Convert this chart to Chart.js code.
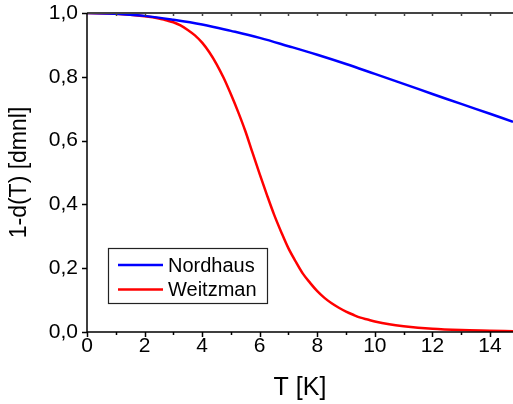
<!DOCTYPE html>
<html>
<head>
<meta charset="utf-8">
<script src="https://cdn.jsdelivr.net/npm/chart.js@4.4.1/dist/chart.umd.min.js"></script>
<style>
  html, body { margin: 0; padding: 0; background: #fff; }
  #wrap { width: 513px; height: 404px; }
</style>
</head>
<body>
<div id="wrap"><canvas id="chart" width="513" height="404"></canvas></div>
<script>
// temperatures (K) and values
const tNordhaus = [0, 1, 2, 3, 4, 5, 6, 7, 8, 9, 10, 11, 12, 13, 14, 14.8];
const nordhaus = [1.0, 0.998, 0.991, 0.979, 0.964, 0.944, 0.922, 0.896, 0.869, 0.840, 0.809, 0.778, 0.746, 0.715, 0.684, 0.659];

const tWeitzman = [0, 1, 2, 2.5, 2.75, 3, 3.25, 3.5, 3.75, 4, 4.25, 4.5, 4.75, 5, 5.25, 5.5, 5.75, 6, 6.25, 6.5, 6.75, 7, 7.25, 7.5, 7.75, 8, 8.25, 8.5, 8.75, 9, 9.25, 9.5, 9.75, 10, 10.5, 11, 12, 13, 14, 14.8];
const weitzman = [1.0, 0.998, 0.990, 0.983, 0.977, 0.971, 0.961, 0.947, 0.930, 0.907, 0.877, 0.840, 0.796, 0.745, 0.690, 0.630, 0.562, 0.495, 0.430, 0.368, 0.313, 0.262, 0.221, 0.183, 0.154, 0.128, 0.107, 0.090, 0.076, 0.064, 0.054, 0.045, 0.039, 0.033, 0.024, 0.018, 0.010, 0.006, 0.004, 0.0025];

const xTickLabels = [0, 2, 4, 6, 8, 10, 12, 14];
const yTickLabels = [0, 0.2, 0.4, 0.6, 0.8, 1.0];

const FONT = '"Liberation Sans", Arial, sans-serif';

const toPoints = (xs, ys) => xs.map((x, i) => ({ x: x, y: ys[i] }));

// axes, ticks and the boxed legend, drawn in the figure's style
const framePlugin = {
    id: 'frame',
    afterDraw(chart) {
        const ctx = chart.ctx;
        const area = chart.chartArea;
        const xs = chart.scales.x;
        const ys = chart.scales.y;
        ctx.save();

        // top axis
        ctx.strokeStyle = '#444';
        ctx.lineWidth = 2;
        ctx.beginPath();
        ctx.moveTo(area.left, area.top);
        ctx.lineTo(area.right, area.top);
        ctx.stroke();
        ctx.lineWidth = 1.5;
        ctx.beginPath();
        for (let v = 1; v <= 14; v++) {
            const px = Math.round(xs.getPixelForValue(v)) + 0.5;
            ctx.moveTo(px, area.top);
            ctx.lineTo(px, area.top + 3);
        }
        ctx.stroke();

        // left and bottom axes
        ctx.strokeStyle = '#000';
        ctx.lineWidth = 1.5;
        ctx.beginPath();
        ctx.moveTo(area.left, area.top);
        ctx.lineTo(area.left, area.bottom);
        ctx.lineTo(area.right, area.bottom);
        yTickLabels.forEach(v => {
            const py = Math.round(ys.getPixelForValue(v)) + 0.5;
            ctx.moveTo(area.left, py);
            ctx.lineTo(area.left - 5, py);
        });
        for (let v = 0; v <= 14; v++) {
            const px = Math.round(xs.getPixelForValue(v)) + 0.5;
            ctx.moveTo(px, area.bottom);
            ctx.lineTo(px, area.bottom + (v % 2 === 0 ? 5 : 3));
        }
        ctx.stroke();

        // legend
        const bx = 108, by = 248, bw = 159, bh = 55;
        ctx.fillStyle = '#fff';
        ctx.fillRect(bx, by, bw, bh);
        ctx.strokeStyle = '#222';
        ctx.lineWidth = 1.2;
        ctx.strokeRect(bx + 0.5, by + 0.5, bw, bh);
        ctx.font = '20px ' + FONT;
        ctx.textBaseline = 'middle';
        chart.data.datasets.forEach((ds, i) => {
            const ly = 265 + i * 24.5;
            ctx.strokeStyle = ds.borderColor;
            ctx.lineWidth = 2.5;
            ctx.beginPath();
            ctx.moveTo(118, ly);
            ctx.lineTo(163, ly);
            ctx.stroke();
            ctx.fillStyle = '#000';
            ctx.fillText(ds.label, 168, ly + 1);
        });
        ctx.restore();
    }
};

const noEdgePadding = (scale) => {
    scale.paddingTop = 0;
    scale.paddingBottom = 0;
    scale.paddingLeft = 0;
    scale.paddingRight = 0;
};

new Chart(document.getElementById('chart').getContext('2d'), {
    type: 'line',
    data: {
        datasets: [{
            label: 'Nordhaus',
            data: toPoints(tNordhaus, nordhaus),
            borderColor: '#0000ff',
            borderWidth: 2.5,
            pointRadius: 0,
            tension: 0.4,
            fill: false
        }, {
            label: 'Weitzman',
            data: toPoints(tWeitzman, weitzman),
            borderColor: '#ff0000',
            borderWidth: 2.5,
            pointRadius: 0,
            cubicInterpolationMode: 'monotone',
            fill: false
        }]
    },
    options: {
        responsive: false,
        animation: false,
        layout: { padding: { top: 13, right: 0, left: 0, bottom: 0 } },
        plugins: {
            legend: { display: false },
            tooltip: { enabled: false }
        },
        scales: {
            x: {
                type: 'linear',
                min: 0,
                max: 14.8,
                afterBuildTicks: (scale) => { scale.ticks = xTickLabels.map(v => ({ value: v })); },
                afterFit: (scale) => { scale.height = 72; noEdgePadding(scale); },
                grid: { display: false, drawTicks: false },
                border: { display: false },
                ticks: {
                    color: '#000',
                    padding: 2,
                    maxRotation: 0,
                    font: { family: FONT, size: 21 },
                    callback: (v) => String(v)
                },
                title: {
                    display: true,
                    text: 'T [K]',
                    color: '#000',
                    padding: { top: 2, bottom: 1 },
                    font: { family: FONT, size: 25 }
                }
            },
            y: {
                min: 0,
                max: 1,
                afterBuildTicks: (scale) => { scale.ticks = yTickLabels.map(v => ({ value: v })); },
                afterFit: (scale) => { scale.width = 87; noEdgePadding(scale); },
                grid: { display: false, drawTicks: false },
                border: { display: false },
                ticks: {
                    color: '#000',
                    padding: 9,
                    font: { family: FONT, size: 21 },
                    callback: (v) => v.toFixed(1).replace('.', ',')
                },
                title: {
                    display: true,
                    text: '1-d(T) [dmnl]',
                    color: '#000',
                    padding: { top: 6, bottom: 0 },
                    font: { family: FONT, size: 23 }
                }
            }
        }
    },
    plugins: [framePlugin]
});
</script>
</body>
</html>
